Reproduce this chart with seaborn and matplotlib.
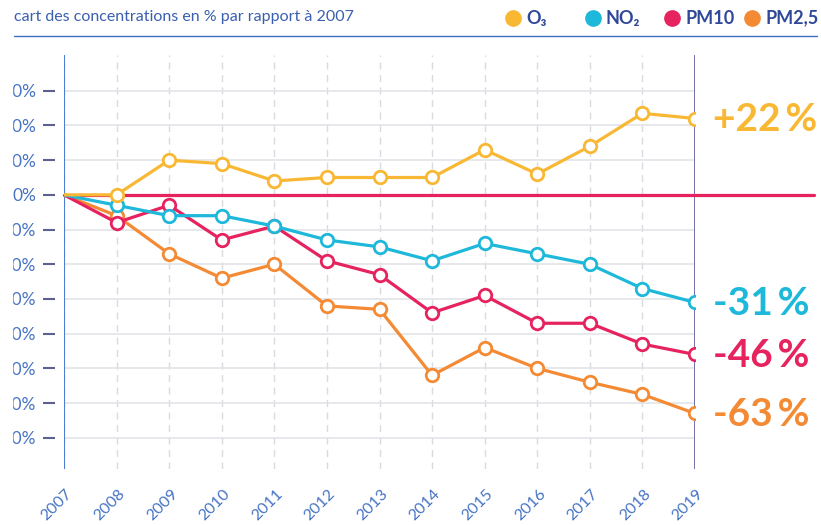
from __future__ import annotations

import matplotlib

matplotlib.use("Agg")
import matplotlib.pyplot as plt
import seaborn as sns
from matplotlib.lines import Line2D
from matplotlib.patches import Rectangle
from matplotlib.transforms import ScaledTranslation

# values (% vs 2007)
years = list(range(2007, 2020))
o3 = [0, 0, 10, 9, 4, 5, 5, 5, 13, 6, 14, 23.5, 22]
no2 = [0, -3, -6, -6, -9, -13, -15, -19, -14, -17, -20, -27, -31]
pm10 = [0, -8, -3, -13, -9, -19, -23, -34, -29, -37, -37, -43, -46]
pm25 = [0, -6, -17, -24, -20, -32, -33, -52, -44, -50, -54, -57.5, -63]

names = ["O₃", "NO₂", "PM10", "PM2,5"]
end_labels = ["+22\u2009%", "-31\u2009%", "-46\u2009%", "-63\u2009%"]
y_ticks = list(range(-70, 40, 10))
y_tick_labels = [f"{v}%" for v in y_ticks]
title = "cart des concentrations en % par rapport à 2007"

colors = ["#F9B834", "#1DB8DA", "#E6235E", "#F48A33"]
BLUE = "#4673C4"
W, H = 821, 525

sns.set_theme(style="white")
plt.rcParams["font.family"] = ["Lato", "DejaVu Sans"]


def px_x(v):
    return v / W


def px_y(v):
    return 1 - v / H


def main() -> None:
    fig = plt.figure(figsize=(W / 100, H / 100), dpi=100)
    ax = fig.add_axes([px_x(64), px_y(469), (695 - 64) / W, (469 - 55) / H])
    ax.set_xlim(2007, 2019)
    ax.set_ylim(-79.0, 40.3)

    series = [o3, no2, pm10, pm25]
    # draw bottom series first so the yellow line sits on top
    for vals, color, z in zip(series[::-1], colors[::-1], [3, 4, 5, 6]):
        sns.lineplot(x=years, y=vals, ax=ax, color=color, lw=2.3, marker="o",
                     markersize=9, mfc="white", mec=color, mew=2.0,
                     markevery=list(range(1, len(years))), zorder=z, legend=False)

    ax.axhline(0, xmin=0, xmax=(814 - 64) / (695 - 64), color=colors[2], lw=2.3,
               clip_on=False, zorder=2.5)
    ax.axvline(2007, color="#4F7FD0", lw=1.5, zorder=2)
    ax.axvline(2019, color="#5D5A9C", lw=1.2, zorder=2)

    for vals, color, label in zip(series, colors, end_labels):
        ax.annotate(label, xy=(years[-1], vals[-1]), xytext=(13, -1),
                    textcoords="offset points", ha="left", va="center",
                    fontsize=28, fontweight="bold", color=color,
                    annotation_clip=False)

    ax.set_yticks(y_ticks)
    ax.set_yticklabels(y_tick_labels)
    ax.set_xticks(years)
    ax.set_xticklabels([str(y) for y in years], rotation=45, ha="center")
    ax.yaxis.grid(True, color="#E1E4E7", lw=1.2)
    ax.xaxis.grid(True, color="#D8DBDF", lw=1.0, ls=(0, (5, 4)))
    ax.set_axisbelow(True)
    for side in ["top", "right", "bottom"]:
        ax.spines[side].set_visible(False)
    ax.spines["left"].set_position(("outward", 6.5))
    ax.spines["left"].set_visible(False)
    ax.tick_params(axis="y", left=True, length=8.6, width=1.5, color="#5C5F8F",
                   pad=5, labelsize=12.5, labelcolor=BLUE)
    ax.tick_params(axis="x", bottom=False, length=0, pad=13, labelsize=11.5,
                   labelcolor=BLUE)
    shift = ScaledTranslation(-7 / 100, 0, fig.dpi_scale_trans)
    for lab in ax.get_xticklabels():
        lab.set_transform(lab.get_transform() + shift)
    ax.set_xlabel("")
    ax.set_ylabel("")

    # header: title, rule and legend
    fig.text(px_x(14), px_y(17), title, ha="left", va="center", fontsize=11.5,
             color="#3A5FAE")
    fig.add_artist(Line2D([px_x(14), px_x(817)], [px_y(36), px_y(36)],
                          color="#3B6CC4", lw=1.0))
    for i, (name, color) in enumerate(zip(names, colors)):
        cx = 513 + i * 79.7
        fig.add_artist(Line2D([px_x(cx)], [px_y(18)], ls="none", marker="o",
                              ms=11, color=color))
        fig.text(px_x(cx + 13), px_y(18), name, ha="left", va="center",
                 fontsize=13, fontweight="bold", color="#30489A")

    # the reference is cropped on the left edge
    fig.add_artist(Rectangle((0, 0), px_x(12), 1, transform=fig.transFigure,
                             color="white", zorder=10))

    fig.savefig("out.png", dpi=100)
    plt.close(fig)


if __name__ == "__main__":
    main()
